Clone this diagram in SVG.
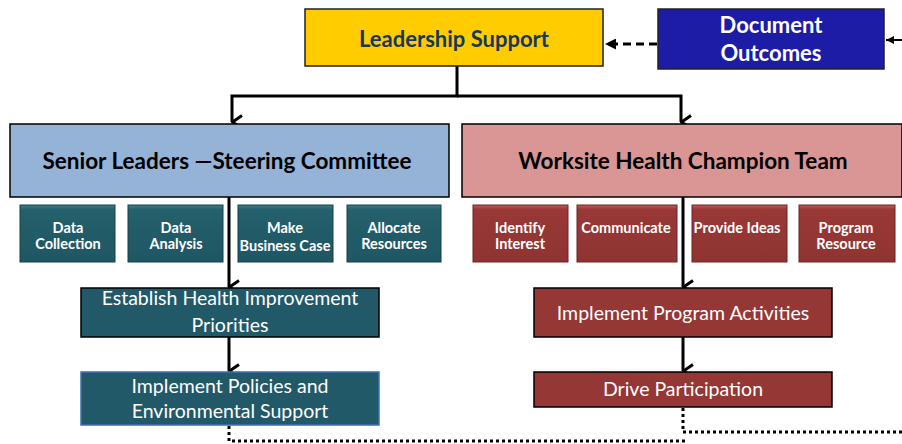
<svg xmlns="http://www.w3.org/2000/svg" width="902" height="444" viewBox="0 0 902 444">
<style>
.t{font-family:Lato,"Liberation Sans",sans-serif;text-anchor:middle}
.b{font-weight:bold}
.w{fill:#ffffff}
.sub{font-size:14.5px;font-weight:bold;fill:#ffffff}
.big{font-size:22px}
.mid{font-size:19.5px;fill:#ffffff}
.ln{fill:none;stroke:#000;stroke-width:3}
.dot{fill:none;stroke:#000;stroke-width:3;stroke-dasharray:3 3}
.teal{fill:url(#gt);stroke:#173f48;stroke-width:1}
.red{fill:url(#gr);stroke:#6b2423;stroke-width:1}
</style>
<defs>
<linearGradient id="gt" x1="0" y1="0" x2="0" y2="1">
<stop offset="0" stop-color="#3e7f8c"/><stop offset="0.08" stop-color="#25606d"/><stop offset="1" stop-color="#1f5663"/>
</linearGradient>
<linearGradient id="gr" x1="0" y1="0" x2="0" y2="1">
<stop offset="0" stop-color="#c45a58"/><stop offset="0.08" stop-color="#993836"/><stop offset="1" stop-color="#8f3432"/>
</linearGradient>
<marker id="open" viewBox="0 0 16 13" refX="8" refY="12" markerWidth="16" markerHeight="13" markerUnits="userSpaceOnUse" orient="auto-start-reverse">
<path d="M1.5,2 L8,11.5 L14.5,2" fill="none" stroke="#000" stroke-width="3"/>
</marker>
<marker id="fill" viewBox="0 0 10 10" refX="10" refY="5" markerWidth="11" markerHeight="11" markerUnits="userSpaceOnUse" orient="auto">
<path d="M0,0 L10,5 L0,10 Z" fill="#000"/>
</marker>
<marker id="fillS" viewBox="0 0 10 10" refX="10" refY="5" markerWidth="8" markerHeight="8" markerUnits="userSpaceOnUse" orient="auto">
<path d="M0,0 L10,5 L0,10 Z" fill="#000"/>
</marker>
</defs>
<rect width="902" height="444" fill="#ffffff"/>

<g id="connectors">
<path class="ln" d="M457,66 V96 H232 V122" marker-end="url(#open)"/>
<path class="ln" d="M457,96 H681 V122" marker-end="url(#open)"/>
<path d="M657,44 H605" fill="none" stroke="#000" stroke-width="3" stroke-dasharray="8 5" marker-end="url(#fill)"/>
<path d="M902,40 H886" fill="none" stroke="#000" stroke-width="2" marker-end="url(#fillS)"/>
<path class="ln" d="M229,197 V287" marker-end="url(#open)"/>
<path class="ln" d="M683,197 V287" marker-end="url(#open)"/>
<path class="ln" d="M229,337 V371" marker-end="url(#open)"/>
<path class="ln" d="M683,337 V371" marker-end="url(#open)"/>
<path class="dot" d="M683,408 V432 H902"/>
<path class="dot" d="M229,426 V441 H688"/>
</g>

<g id="leadership">
<rect x="305" y="9" width="298" height="57" fill="#ffcc00" stroke="#222" stroke-width="1.5"/>
<text class="t b big" x="454" y="47" fill="#17375e">Leadership Support</text>
</g>
<g id="document">
<rect x="658" y="9" width="226" height="60" fill="#1c1ca6" stroke="#222" stroke-width="1.5"/>
<text class="t b big w" x="771" y="33">Document</text>
<text class="t b big w" x="771" y="61">Outcomes</text>
</g>
<g id="senior">
<rect x="10" y="124" width="439" height="73" fill="#95b3d7" stroke="#000" stroke-width="1.5"/>
<text class="t b" x="227" y="169" font-size="22.5">Senior Leaders —Steering Committee</text>
</g>
<g id="worksite">
<rect x="462" y="124" width="440" height="73" fill="#d99694" stroke="#000" stroke-width="1.5"/>
<text class="t b" x="683" y="169" font-size="22.5">Worksite Health Champion Team</text>
</g>

<g id="data-collection">
<rect class="teal" x="20" y="205" width="95" height="57"/>
<text class="t sub" x="68" y="233">Data</text><text class="t sub" x="68" y="249">Collection</text>
</g>
<g id="data-analysis">
<rect class="teal" x="128" y="205" width="95" height="57"/>
<text class="t sub" x="176" y="233">Data</text><text class="t sub" x="176" y="249">Analysis</text>
</g>
<g id="business-case">
<rect class="teal" x="238" y="205" width="95" height="57"/>
<text class="t sub" x="285" y="233">Make</text><text class="t sub" x="285" y="251">Business Case</text>
</g>
<g id="allocate">
<rect class="teal" x="347" y="205" width="94" height="57"/>
<text class="t sub" x="394" y="233">Allocate</text><text class="t sub" x="394" y="249">Resources</text>
</g>

<g id="identify">
<rect class="red" x="473" y="205" width="95" height="57"/>
<text class="t sub" x="520" y="233">Identify</text><text class="t sub" x="520" y="249">Interest</text>
</g>
<g id="communicate">
<rect class="red" x="577" y="205" width="100" height="57"/>
<text class="t sub" x="626" y="233">Communicate</text>
</g>
<g id="provide-ideas">
<rect class="red" x="692" y="205" width="95" height="57"/>
<text class="t sub" x="737" y="233">Provide Ideas</text>
</g>
<g id="program-resource">
<rect class="red" x="799" y="205" width="96" height="57"/>
<text class="t sub" x="846" y="233">Program</text><text class="t sub" x="846" y="249">Resource</text>
</g>

<g id="establish">
<rect x="81" y="288" width="298" height="49" fill="#215968" stroke="#000" stroke-width="1.5"/>
<text class="t mid" x="230" y="305">Establish Health Improvement</text>
<text class="t mid" x="230" y="332">Priorities</text>
</g>
<g id="policies">
<rect x="81" y="372" width="298" height="53" fill="#215968" stroke="#3d72b0" stroke-width="1.5"/>
<text class="t mid" x="230" y="393">Implement Policies and</text>
<text class="t mid" x="230" y="418">Environmental Support</text>
</g>
<g id="program-activities">
<rect x="534" y="288" width="298" height="49" fill="#953735" stroke="#000" stroke-width="1.5"/>
<text class="t mid" x="683" y="320">Implement Program Activities</text>
</g>
<g id="drive">
<rect x="534" y="372" width="298" height="35" fill="#953735" stroke="#000" stroke-width="1.5"/>
<text class="t mid" x="683" y="396">Drive Participation</text>
</g>
</svg>
